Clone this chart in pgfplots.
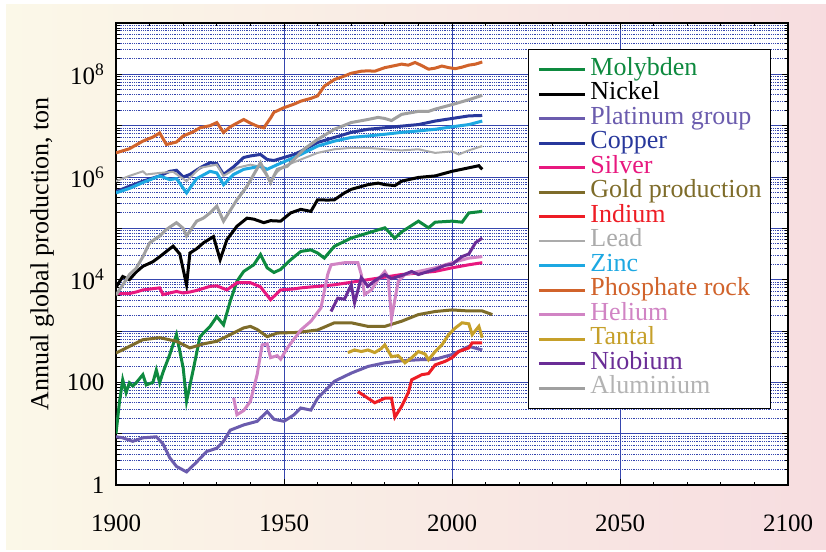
\documentclass[border=0pt]{standalone}
\usepackage{fontspec}
\setmainfont{Liberation Serif}
\usepackage{pgfplots}
\pgfplotsset{compat=1.18}

\definecolor{bgL}{HTML}{FBF8E8}
\definecolor{bgR}{HTML}{F7DDE0}
\definecolor{gridC}{HTML}{3646AE}
\definecolor{molyC}{HTML}{0E8A3F}
\definecolor{nickC}{HTML}{000000}
\definecolor{platC}{HTML}{6B5CAE}
\definecolor{coppC}{HTML}{28389C}
\definecolor{silvC}{HTML}{E8187F}
\definecolor{goldC}{HTML}{7E6C2A}
\definecolor{indC}{HTML}{EE1D25}
\definecolor{leadC}{HTML}{ABABAB}
\definecolor{zincC}{HTML}{1DA8E2}
\definecolor{phosC}{HTML}{D1632B}
\definecolor{heliC}{HTML}{D184C4}
\definecolor{tantC}{HTML}{C6A02A}
\definecolor{niobC}{HTML}{6A2D96}
\definecolor{alumC}{HTML}{A0A0A0}

\begin{document}
\begin{tikzpicture}
\fill[white] (0pt,0pt) rectangle (826pt,551pt);
\shade[left color=bgL, right color=bgR] (6pt,2pt) rectangle (826pt,546pt);
\begin{axis}[
    at={(116pt,66pt)}, anchor=south west,
    scale only axis, width=672pt, height=462pt,
    xmin=1900, xmax=2100,
    ymode=log, ymin=1, ymax=1e9,
    axis background/.style={fill=white},
    xtick={1900,1950,2000,2050,2100},
    minor x tick num=4,
    ytick={1,10,100,1e3,1e4,1e5,1e6,1e7,1e8,1e9},
    yticklabels={1,,100,,10\textsuperscript{4},,10\textsuperscript{6},,10\textsuperscript{8},},
    /pgf/number format/assume math mode=true,
    xticklabel style={/pgf/number format/1000 sep={}, yshift=-26pt},
    yticklabel style={xshift=-8pt},
    ticklabel style={font=\fontsize{25}{25}\selectfont},
    ylabel={Annual global production, ton},
    ylabel style={font=\fontsize{26}{26}\selectfont, at={(axis description cs:-0.11,0.5)}, anchor=center},
    xmajorgrids=true, ymajorgrids=true, yminorgrids=true,
    major grid style={color=gridC, line width=0.9pt},
    minor grid style={color=gridC, dash pattern=on 0.9pt off 0.9pt, line width=0.9pt},
    axis line style={line width=1.1pt},
    tick style={black, line width=0.9pt},
    major tick length=6pt, minor tick length=3.5pt,
    legend cell align=left,
    legend image code/.code={\draw[#1] (0pt,0pt) -- (46pt,0pt); \path (50pt,0pt);},
    legend style={at={(axis description cs:0.613,0.944)}, anchor=north west,
        draw=black, line width=1pt, fill=white,
        font=\fontsize{26}{26}\selectfont,
        inner xsep=9pt, inner ysep=8pt, column sep=0pt,
        nodes={inner sep=0pt, text height=18pt, text depth=6.5pt}},
]
% Molybden
\addplot[molyC, line width=3pt] coordinates {
(1900,10) (1901,40) (1902,112) (1903,63) (1904,98) (1905,85) (1906,98) (1908,141) (1909,89)
(1911,100) (1912,174) (1913,98) (1914,158) (1916,347) (1918,851) (1920,191) (1921,43)
(1923,178) (1925,776) (1928,1230) (1930,1905) (1932,1318) (1934,3802) (1936,9333)
(1938,14450) (1941,19500) (1943,30900) (1945,17000) (1947,13800) (1949,15850)
(1952,24500) (1955,35500) (1958,38000) (1960,33100) (1962,26300) (1965,44700)
(1970,64600) (1975,81300) (1980,102300) (1983,64600) (1985,85100) (1990,138000)
(1993,102300) (1995,131800) (2000,138000) (2003,131800) (2005,199500) (2009,213800)
};
\addlegendentry{\textcolor{molyC}{Molybden}}
% Nickel
\addplot[nickC, line width=3pt] coordinates {
(1900,7100) (1902,11500) (1904,10000) (1906,14100) (1908,18200) (1911,22400) (1913,28000)
(1915,35500) (1917,45000) (1919,31600) (1921,7900) (1922,33000) (1924,40000) (1926,52000)
(1929,69000) (1931,24500) (1933,60000) (1936,110000) (1939,158000) (1941,151000)
(1944,129000) (1946,141000) (1949,138000) (1952,200000) (1955,234000) (1958,214000)
(1960,360000) (1963,355000) (1965,360000) (1968,490000) (1970,575000) (1975,710000)
(1978,760000) (1980,710000) (1983,680000) (1985,830000) (1990,980000) (1995,1050000)
(2000,1290000) (2005,1510000) (2008,1660000) (2009,1410000)
};
\addlegendentry{\textcolor{nickC}{Nickel}}
% Platinum group
\addplot[platC, line width=3pt] coordinates {
(1900,8.7) (1902,8.3) (1905,7.1) (1908,8.3) (1912,8.7) (1914,6.3) (1916,3.4) (1918,2.3)
(1921,1.8) (1924,2.8) (1927,4.5) (1930,5.2) (1932,7.1) (1934,11.7) (1938,14.8) (1942,17.4)
(1945,26.9) (1947,19.1) (1950,17.4) (1953,23.4) (1955,31.6) (1958,28.8) (1960,49)
(1965,105) (1970,151) (1975,204) (1980,240) (1985,263) (1990,275) (1995,282) (2000,347)
(2005,501) (2009,427)
};
\addlegendentry{\textcolor{platC}{Platinum group}}
% Copper
\addplot[coppC, line width=3pt] coordinates {
(1900,5.2e5) (1904,6.6e5) (1908,8.3e5) (1913,1.05e6) (1916,1.29e6) (1918,1.35e6)
(1920,1.0e6) (1922,1.12e6) (1925,1.51e6) (1928,1.9e6) (1930,1.82e6) (1932,1.12e6)
(1935,1.58e6) (1938,2.4e6) (1940,2.57e6) (1943,2.75e6) (1945,2.19e6) (1947,2.09e6)
(1950,2.4e6) (1953,2.75e6) (1955,3.16e6) (1960,4.7e6) (1965,5.9e6) (1970,7.4e6)
(1975,8.5e6) (1980,9.1e6) (1985,9.8e6) (1990,1.05e7) (1995,1.23e7) (2000,1.38e7)
(2005,1.55e7) (2009,1.58e7)
};
\addlegendentry{\textcolor{coppC}{Copper}}
% Silver
\addplot[silvC, line width=3pt] coordinates {
(1900,5370) (1904,5370) (1906,5750) (1908,6310) (1913,6920) (1914,5130) (1916,5500)
(1918,5890) (1920,5500) (1922,5750) (1924,6170) (1928,7410) (1930,7590) (1933,6310)
(1936,8710) (1940,8710) (1943,7240) (1946,4070) (1949,6310) (1953,6610) (1955,6920)
(1960,7410) (1965,7940) (1970,8910) (1975,10000) (1980,11200) (1985,12600) (1990,13500)
(1995,14500) (2000,17000) (2005,19500) (2009,21400)
};
\addlegendentry{\textcolor{silvC}{Silver}}
% Gold
\addplot[goldC, line width=3pt] coordinates {
(1900,372) (1904,501) (1908,676) (1913,741) (1918,631) (1922,468) (1926,562) (1930,631)
(1934,851) (1938,1148) (1940,1230) (1942,1072) (1945,776) (1948,912) (1953,933)
(1955,955) (1960,1047) (1965,1445) (1970,1445) (1975,1230) (1980,1230) (1985,1549)
(1990,2089) (1995,2399) (2000,2570) (2005,2455) (2009,2455) (2012,2089)
};
\addlegendentry{\textcolor{goldC}{Gold production}}
% Indium
\addplot[indC, line width=3pt] coordinates {
(1972,66) (1975,49) (1977,40) (1980,49) (1982,49) (1983,21) (1985,34) (1987,63)
(1988,112) (1991,141) (1993,148) (1995,219) (1998,257) (2000,302) (2002,398)
(2005,468) (2006,589) (2009,589)
};
\addlegendentry{\textcolor{indC}{Indium}}
% Lead
\addplot[leadC, line width=2pt] coordinates {
(1900,8.3e5) (1904,1.05e6) (1908,1.29e6) (1909,1.12e6) (1913,1.2e6) (1917,1.26e6)
(1921,8.3e5) (1925,1.51e6) (1930,1.74e6) (1932,1.05e6) (1936,1.51e6) (1940,1.74e6)
(1943,1.58e6) (1946,8.3e5) (1948,1.26e6) (1950,1.62e6) (1955,2.19e6) (1960,2.95e6)
(1965,3.47e6) (1970,3.7e6) (1975,3.7e6) (1980,3.47e6) (1985,3.3e6) (1990,3.47e6)
(1995,2.95e6) (2000,3.16e6) (2002,2.75e6) (2005,3.3e6) (2009,4.0e6)
};
\addlegendentry{\textcolor{leadC}{Lead}}
% Zinc
\addplot[zincC, line width=3pt] coordinates {
(1900,4.9e5) (1904,6.0e5) (1908,7.8e5) (1913,1.05e6) (1916,8.9e5) (1918,9.3e5)
(1921,4.9e5) (1924,9.3e5) (1928,1.29e6) (1930,1.2e6) (1932,7.1e5) (1935,1.12e6)
(1938,1.41e6) (1943,1.62e6) (1945,1.41e6) (1948,1.74e6) (1953,2.4e6) (1955,2.75e6)
(1960,4.0e6) (1965,5.0e6) (1970,5.9e6) (1975,6.3e6) (1980,6.8e6) (1985,7.4e6)
(1990,7.9e6) (1995,8.5e6) (2000,9.5e6) (2005,1.05e7) (2009,1.23e7)
};
\addlegendentry{\textcolor{zincC}{Zinc}}
% Phosphate rock
\addplot[phosC, line width=3pt] coordinates {
(1900,2.95e6) (1904,3.55e6) (1908,5.0e6) (1911,6.0e6) (1913,7.2e6) (1915,4.3e6)
(1918,4.8e6) (1920,6.3e6) (1923,7.6e6) (1925,9.1e6) (1928,1.0e7) (1930,1.15e7)
(1932,7.4e6) (1934,9.5e6) (1936,1.12e7) (1938,1.32e7) (1940,1.12e7) (1942,9.8e6)
(1944,9.1e6) (1946,1.41e7) (1947,1.82e7) (1950,2.24e7) (1953,2.63e7) (1955,3.0e7)
(1958,3.4e7) (1960,3.8e7) (1962,5.9e7) (1965,7.9e7) (1968,9.3e7) (1970,1.05e8)
(1973,1.15e8) (1975,1.17e8) (1977,1.15e8) (1980,1.35e8) (1983,1.48e8) (1985,1.58e8)
(1987,1.51e8) (1989,1.70e8) (1991,1.48e8) (1993,1.26e8) (1995,1.32e8) (1997,1.45e8)
(1999,1.35e8) (2001,1.29e8) (2003,1.38e8) (2005,1.51e8) (2007,1.58e8) (2009,1.74e8)
};
\addlegendentry{\textcolor{phosC}{Phosphate rock}}
% Helium
\addplot[heliC, line width=3pt] coordinates {
(1935,50) (1936,23.4) (1938,28.2) (1940,42.7) (1942,141) (1943.5,537) (1945,562)
(1946,302) (1948,331) (1949,282) (1951,468) (1954,851) (1955,1047) (1958,1549)
(1961,2818) (1963,12590) (1964,19500) (1968,21400) (1972,21400) (1973,12590)
(1974,5130) (1976,6310) (1978,10000) (1980,14450) (1981,11220) (1982,1778) (1984,9333)
(1986,12590) (1990,14450) (1995,16980) (2000,21380) (2005,26300) (2009,28180)
};
\addlegendentry{\textcolor{heliC}{Helium}}
% Tantal
\addplot[tantC, line width=3pt] coordinates {
(1969,380) (1971,427) (1973,398) (1975,427) (1977,380) (1979,457) (1980,537) (1982,316)
(1984,331) (1986,240) (1988,302) (1990,398) (1992,355) (1993,275) (1995,398) (1997,537)
(1999,851) (2001,1148) (2003,1445) (2005,1380) (2006,851) (2008,1230) (2009,741)
};
\addlegendentry{\textcolor{tantC}{Tantal}}
% Niobium
\addplot[niobC, line width=3pt] coordinates {
(1964,2400) (1966,4370) (1968,4170) (1970,7940) (1971,3550) (1973,10960) (1975,7410)
(1977,9550) (1980,12590) (1982,10470) (1985,12020) (1988,14450) (1990,12590)
(1995,15850) (1998,19050) (2000,19950) (2003,28180) (2005,31620) (2007,52480)
(2009,64570)
};
\addlegendentry{\textcolor{niobC}{Niobium}}
% Aluminium
\addplot[alumC, line width=3pt] coordinates {
(1900,5.0e3) (1902,7.9e3) (1904,1.26e4) (1906,1.66e4) (1908,2.8e4) (1910,5.2e4)
(1913,7.1e4) (1915,9.5e4) (1918,1.29e5) (1920,1.0e5) (1921,7.1e4) (1924,1.38e5)
(1926,1.58e5) (1928,2.0e5) (1930,2.7e5) (1932,1.38e5) (1934,2.24e5) (1936,3.6e5)
(1939,6.6e5) (1941,1.12e6) (1943,1.9e6) (1944,1.41e6) (1946,7.8e5) (1948,1.41e6)
(1951,1.62e6) (1954,2.57e6) (1956,3.5e6) (1960,5.4e6) (1965,8.5e6) (1970,1.15e7)
(1975,1.32e7) (1978,1.45e7) (1980,1.38e7) (1982,1.26e7) (1985,1.66e7) (1990,1.9e7)
(1993,1.9e7) (1995,2.1e7) (2000,2.57e7) (2005,3.2e7) (2009,3.9e7)
};
\addlegendentry{\textcolor{alumC!80}{Aluminium}}
\end{axis}
\end{tikzpicture}
\end{document}
